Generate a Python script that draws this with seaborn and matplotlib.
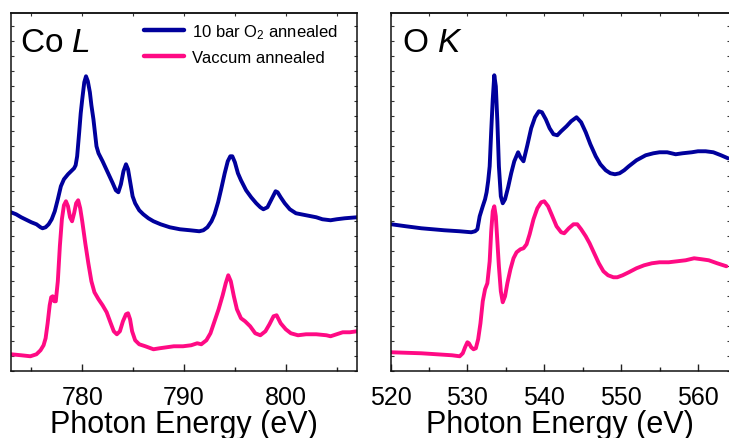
import numpy as np
import pandas as pd
import matplotlib
matplotlib.use("Agg")
import matplotlib.pyplot as plt
from matplotlib.ticker import MultipleLocator, NullFormatter
import seaborn as sns

# ---- Co L-edge XAS (energy in eV, intensity in arbitrary units, offset traces) ----
co_energy_o2 = [773.0, 773.5, 774.0, 774.5, 775.0, 775.5, 775.9, 776.1, 776.4, 776.7,
                777.0, 777.3, 777.6, 777.9, 778.2, 778.6, 779.0, 779.2, 779.35, 779.5,
                779.7, 779.85, 780.0, 780.2, 780.37, 780.55, 780.75, 780.9, 781.1, 781.4,
                781.6, 782.0, 782.5, 783.0, 783.3, 783.55, 783.8, 784.05, 784.3, 784.5,
                784.7, 784.95, 785.2, 785.6, 786.0, 786.5, 787.0, 787.7, 788.6, 789.6,
                790.6, 791.5, 791.9, 792.3, 792.7, 793.0, 793.35, 793.65, 794.0, 794.3,
                794.55, 794.75, 795.0, 795.3, 795.6, 796.1, 796.6, 797.1, 797.5, 797.8,
                798.2, 798.6, 799.0, 799.2, 799.5, 799.9, 800.4, 801.0, 802.0, 803.0,
                803.6, 804.4, 805.0, 805.8, 807.0]
co_int_o2 = [159, 157, 154, 151.5, 149, 147, 144, 143, 144, 147,
             152, 160, 172, 185, 192, 197, 201, 203, 206, 215,
             239, 258, 272, 289, 295, 290, 279, 266, 252, 225,
             218, 210, 199, 188, 181, 179, 187, 200, 207, 202,
             190, 175, 168, 161, 157, 153, 150, 147, 144, 142,
             141, 140, 141, 144, 150, 157, 169, 182, 198, 210,
             215, 215, 209, 198, 191, 181, 174, 168, 164, 162,
             164, 172, 180, 179, 174, 168, 162, 158, 156, 154,
             152, 151, 152, 153, 154]

co_energy_vac = [773.0, 774.0, 774.9, 775.5, 775.9, 776.2, 776.4, 776.6, 776.8, 776.95,
                 777.1, 777.25, 777.4, 777.6, 777.8, 778.0, 778.2, 778.4, 778.6, 778.8,
                 779.0, 779.2, 779.4, 779.6, 779.8, 780.0, 780.3, 780.6, 780.9, 781.2,
                 781.6, 782.0, 782.4, 782.8, 783.1, 783.4, 783.7, 784.0, 784.3, 784.5,
                 784.7, 784.9, 785.2, 785.6, 786.2, 787.0, 787.6, 788.3, 789.0, 789.9,
                 790.7, 791.3, 791.7, 792.2, 792.6, 793.0, 793.4, 793.8, 794.1, 794.35,
                 794.6, 794.9, 795.2, 795.6, 796.0, 796.5, 797.0, 797.5, 798.0, 798.4,
                 798.8, 799.1, 799.5, 800.0, 800.5, 801.2, 802.0, 803.0, 804.0, 804.4,
                 805.0, 805.6, 806.3, 807.0]
co_int_vac = [17, 16, 15, 17, 21, 26, 33, 48, 66, 74,
              75, 70, 70, 90, 125, 152, 166, 170, 165, 154,
              150, 158, 168, 171, 163, 150, 128, 108, 90, 79,
              72, 66, 59, 48, 40, 37, 40, 50, 57, 58,
              52, 40, 31, 27, 25, 22, 23, 24, 25, 25,
              26, 28, 27, 31, 38, 50, 62, 76, 88, 96,
              90, 75, 62, 53, 50, 45, 38, 36, 40, 47,
              55, 56, 48, 42, 38, 36, 37, 37, 36, 35,
              37, 39, 39, 40]

# ---- O K-edge XAS ----
o_energy_o2 = [520.1, 522.0, 524.0, 525.5, 527.0, 529.0, 530.5, 531.0, 531.3, 531.6,
               532.0, 532.3, 532.5, 532.7, 532.9, 533.1, 533.3, 533.5, 533.7, 533.9,
               534.1, 534.35, 534.6, 534.9, 535.3, 535.7, 536.1, 536.6, 536.9, 537.3,
               537.8, 538.3, 538.8, 539.3, 539.7, 540.2, 540.7, 541.2, 541.7, 542.2,
               542.9, 543.5, 544.2, 544.8, 545.4, 546.0, 546.7, 547.3, 548.0, 548.6,
               549.2, 549.8, 550.4, 551.0, 552.0, 553.2, 554.2, 555.0, 556.0, 557.1,
               558.0, 559.2, 560.0, 561.0, 562.0, 563.0, 563.9]
o_int_o2 = [147, 145, 143, 142, 141, 140, 139, 140, 142, 155,
            165, 172, 179, 190, 205, 240, 272, 296, 285, 250,
            205, 175, 168, 172, 184, 198, 210, 219, 214, 210,
            226, 243, 254, 260, 259, 252, 243, 237, 236, 240,
            245, 250, 254, 249, 239, 227, 215, 207, 201, 198,
            197, 198, 201, 205, 211, 216, 218, 219, 219, 217,
            218, 219, 220, 220, 219, 216, 213]

o_energy_vac = [520.1, 522.0, 524.0, 526.0, 528.0, 529.0, 529.4, 529.7, 530.0, 530.2,
                530.5, 530.8, 531.1, 531.4, 531.7, 532.0, 532.3, 532.6, 532.9, 533.1,
                533.3, 533.5, 533.7, 533.9, 534.1, 534.35, 534.6, 534.9, 535.2, 535.6,
                536.0, 536.4, 536.9, 537.3, 537.7, 538.1, 538.6, 539.1, 539.6, 540.0,
                540.5, 541.0, 541.6, 542.2, 542.6, 543.2, 543.8, 544.3, 544.8, 545.4,
                545.9, 546.5, 547.1, 547.7, 548.3, 549.0, 549.5, 550.2, 551.0, 552.0,
                553.0, 554.0, 555.0, 556.2, 557.3, 558.4, 559.5, 560.5, 561.4, 562.5,
                563.7]
o_int_vac = [19, 18.5, 18, 17, 16, 15, 18, 24, 29, 28,
             24, 22, 23, 32, 48, 70, 82, 88, 110, 140,
             160, 165, 155, 130, 105, 80, 69, 75, 88, 102,
             113, 119, 122, 123, 127, 137, 152, 163, 169, 170,
             165, 156, 145, 139, 138, 143, 147, 147, 142, 135,
             128, 118, 108, 100, 96, 94, 94, 96, 99, 103,
             106, 108, 109, 109, 110, 111, 113, 112, 111, 108,
             105]

samples = ["10 bar O$_2$ annealed", "Vaccum annealed"]
colors = ["#00009C", "#FF0A84"]
co_xlim = (773, 807)
o_xlim = (520, 564.2)


def frame(energy, intensity, sample, edge):
    return pd.DataFrame({"energy": energy, "intensity": intensity,
                         "sample": sample, "edge": edge})


df = pd.concat([
    frame(co_energy_o2, co_int_o2, samples[0], "Co L"),
    frame(co_energy_vac, co_int_vac, samples[1], "Co L"),
    frame(o_energy_o2, o_int_o2, samples[0], "O K"),
    frame(o_energy_vac, o_int_vac, samples[1], "O K"),
], ignore_index=True)

sns.set_style("ticks")
plt.rcParams["font.family"] = ["Liberation Sans", "DejaVu Sans"]
plt.rcParams["mathtext.fontset"] = "custom"
plt.rcParams["mathtext.rm"] = "Liberation Sans"
plt.rcParams["mathtext.it"] = "Liberation Sans:italic"
plt.rcParams["text.color"] = "black"
plt.rcParams["axes.labelcolor"] = "black"
plt.rcParams["xtick.color"] = "black"
plt.rcParams["ytick.color"] = "black"

fig = plt.figure(figsize=(7.29, 4.39), dpi=100)
ax_co = fig.add_axes([0.0151, 0.152, 0.4746, 0.8155])
ax_o = fig.add_axes([0.5357, 0.152, 0.4660, 0.8155])

palette = dict(zip(samples, colors))

for ax, edge, xlim, title, show_leg in [
    (ax_co, "Co L", co_xlim, "Co $L$", True),
    (ax_o, "O K", o_xlim, "O $K$", False),
]:
    sub = df[df["edge"] == edge]
    sns.lineplot(data=sub, x="energy", y="intensity", hue="sample",
                 hue_order=samples, palette=palette, estimator=None,
                 linewidth=2.8, ax=ax, legend=show_leg,
                 solid_joinstyle="round", solid_capstyle="round")
    ax.set_xlim(*xlim)
    ax.set_ylim(0, 358)
    ax.xaxis.set_major_locator(MultipleLocator(10))
    ax.xaxis.set_minor_locator(MultipleLocator(5))
    ax.yaxis.set_major_locator(MultipleLocator(15))
    ax.yaxis.set_major_formatter(NullFormatter())
    ax.tick_params(axis="x", which="major", direction="in", length=5, width=1,
                   labelsize=18, pad=10, top=False, colors="#222222",
                   labelcolor="black")
    ax.tick_params(axis="x", which="minor", direction="in", length=3, width=1,
                   top=False, colors="#222222")
    ax.tick_params(axis="y", which="major", direction="in", length=2.5,
                   width=0.8, left=True, right=True, colors="#333333")
    top = ax.secondary_xaxis("top")
    top.xaxis.set_major_locator(MultipleLocator(5))
    top.tick_params(direction="in", length=2.5, width=0.8, colors="#333333",
                    labeltop=False)
    top.xaxis.set_major_formatter(NullFormatter())
    for s in ax.spines.values():
        s.set_linewidth(1.1)
        s.set_color("#111111")
    top.spines["top"].set_linewidth(1.1)
    ax.set_xlabel("Photon Energy (eV)", fontsize=22, labelpad=0)
    ax.set_ylabel("")
    ax.text(0.026 if edge == "Co L" else 0.033, 0.962, title, transform=ax.transAxes,
            fontsize=24, va="top", ha="left")

leg = ax_co.legend(loc="upper left", bbox_to_anchor=(0.385, 0.975),
                   frameon=False, fontsize=12, handlelength=2.4,
                   handletextpad=0.45, labelspacing=0.55, borderpad=0,
                   borderaxespad=0)
for line in leg.get_lines():
    line.set_linewidth(3.2)

fig.savefig("out.png", dpi=100)
